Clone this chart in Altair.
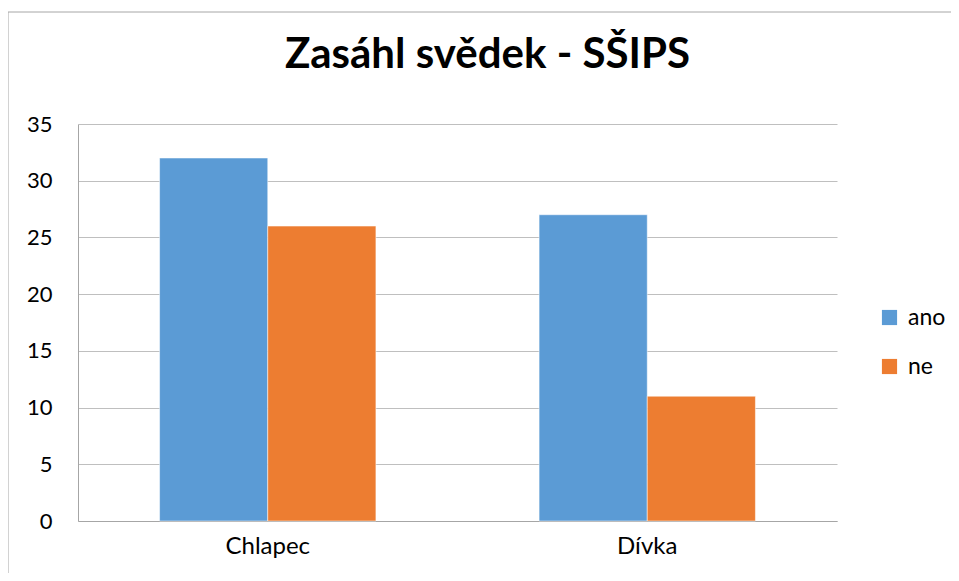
import altair as alt
import pandas as pd

categories = ["Chlapec", "Chlapec", "Dívka", "Dívka"]
series = ["ano", "ne", "ano", "ne"]
values = [32, 26, 27, 11]

df = pd.DataFrame({"pohlavi": categories, "odpoved": series, "pocet": values})

W, H = 759, 397

bars = alt.Chart(df).mark_bar(stroke="white", strokeWidth=0.5).encode(
    x=alt.X("pohlavi:N", sort=["Chlapec", "Dívka"],
            scale=alt.Scale(paddingInner=0.43, paddingOuter=0.215),
            axis=alt.Axis(title=None, labelAngle=0, labelFontSize=24, labelFont="Lato",
                          labelColor="#000000", labelPadding=13, ticks=False,
                          domainColor="#a6a6a6", grid=False)),
    xOffset=alt.XOffset("odpoved:N", sort=["ano", "ne"]),
    y=alt.Y("pocet:Q", scale=alt.Scale(domain=[0, 35], nice=False),
            axis=alt.Axis(title=None, values=[0, 5, 10, 15, 20, 25, 30, 35],
                          labelFontSize=22, labelFont="Lato", labelColor="#000000",
                          labelPadding=26, ticks=False, domainColor="#a6a6a6",
                          gridColor="#bfbfbf", gridWidth=1)),
    color=alt.Color("odpoved:N", sort=["ano", "ne"],
                    scale=alt.Scale(domain=["ano", "ne"], range=["#5B9BD5", "#ED7D31"]),
                    legend=alt.Legend(title=None, orient="none", legendX=800, legendY=182,
                                      symbolType="square", symbolSize=230,
                                      symbolStrokeWidth=0, labelFontSize=23,
                                      labelFont="Lato", labelColor="#000000",
                                      rowPadding=25, labelOffset=7)),
)

frame_src = pd.DataFrame({"a": [0]})
left_edge = alt.Chart(frame_src).mark_rule(color="#a6a6a6", strokeWidth=1, clip=False).encode(
    x=alt.value(-70), y=alt.value(-112), y2=alt.value(H + 60),
)
top_edge = alt.Chart(frame_src).mark_rule(color="#a6a6a6", strokeWidth=1, clip=False).encode(
    x=alt.value(-70), x2=alt.value(W + 114), y=alt.value(-112),
)

chart = alt.layer(left_edge, top_edge, bars).properties(
    width=W, height=H,
    title=alt.TitleParams("Zasáhl svědek - SŠIPS", fontSize=42, font="Lato",
                          fontWeight="bold", color="#000000", anchor="middle",
                          dx=30, offset=-65),
    autosize=alt.AutoSizeParams(type="none"),
    padding={"left": 70, "top": 116, "right": 114, "bottom": 52},
).configure_view(stroke=None)

chart.save("out.html", embed_options={"renderer": "svg", "actions": False})
